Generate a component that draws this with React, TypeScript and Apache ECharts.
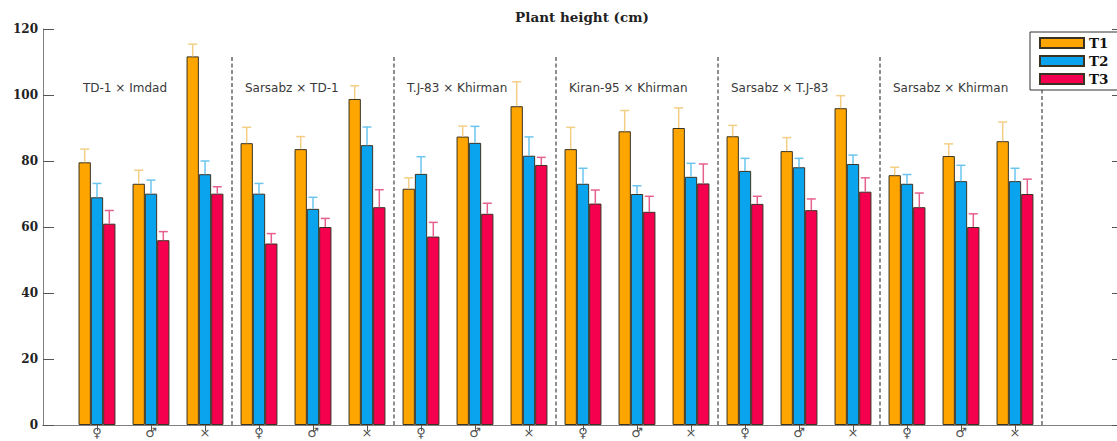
import React, { useEffect, useRef } from 'react';
import * as echarts from 'echarts';

const categories = ['♀', '♂', '×', '♀', '♂', '×', '♀', '♂', '×', '♀', '♂', '×', '♀', '♂', '×', '♀', '♂', '×'];
const groupLabels = ['TD-1 × Imdad', 'Sarsabz × TD-1', 'T.J-83 × Khirman', 'Kiran-95 × Khirman', 'Sarsabz × T.J-83', 'Sarsabz × Khirman'];
const seriesNames = ['T1', 'T2', 'T3'];

const t1 = [79.6, 73.1, 111.7, 85.4, 83.6, 98.8, 71.6, 87.4, 96.6, 83.6, 89.0, 90.0, 87.5, 83.0, 96.0, 75.7, 81.5, 86.0];
const t1Err = [4.0, 4.1, 3.7, 4.8, 3.8, 4.0, 3.3, 3.2, 7.4, 6.6, 6.3, 6.1, 3.3, 4.1, 3.8, 2.4, 3.7, 5.8];
const t2 = [69.0, 70.1, 76.0, 70.1, 65.5, 84.8, 76.1, 85.5, 81.6, 73.1, 70.0, 75.2, 77.0, 78.1, 79.1, 73.1, 73.9, 73.9];
const t2Err = [4.2, 4.1, 4.0, 3.1, 3.5, 5.5, 5.2, 5.0, 5.7, 4.7, 2.5, 4.1, 3.8, 2.7, 2.7, 2.8, 4.8, 3.9];
const t3 = [61.0, 56.0, 70.1, 55.0, 60.0, 66.0, 57.1, 64.0, 78.8, 67.1, 64.6, 73.2, 67.0, 65.1, 70.7, 66.0, 60.0, 70.0];
const t3Err = [4.0, 2.6, 2.1, 3.0, 2.6, 5.3, 4.3, 3.2, 2.3, 4.1, 4.7, 5.9, 2.3, 3.4, 4.2, 4.3, 4.0, 4.5];

const yTicks = [0, 20, 40, 60, 80, 100, 120];

const barColors = ['#FFA500', '#0AA4EE', '#F5004F'];
const errColors = ['#F3CF85', '#6CC5EE', '#E6608E'];
const BAR_W = 12.3;

export default function App() {
  const ref = useRef<HTMLDivElement>(null);
  useEffect(() => {
    const chart = echarts.init(ref.current!, null, { renderer: 'svg' });
    const values = [t1, t2, t3];
    const errs = [t1Err, t2Err, t3Err];
    const xData = ['', ...categories, '', ''];
    const pad = (arr: number[]) => [null, ...arr, null, null];

    const errData: number[][] = [];
    values.forEach((arr, s) => arr.forEach((v, i) => errData.push([i + 1, v, errs[s][i], s])));
    const sepData = groupLabels.map((_, k) => [3 * k + 3.5, 0]);
    const labelData = groupLabels.map((_, k) => [3 * k + 0.74, 102.1, k]);

    const axisColor = '#808080';
    const option: any = {
      animation: false,
      backgroundColor: '#ffffff',
      title: {
        text: 'Plant height (cm)',
        left: 582,
        top: 10,
        textAlign: 'center',
        padding: 0,
        textStyle: { fontFamily: 'DejaVu Serif', fontWeight: 'bold', fontSize: 13.5, color: '#222' },
      },
      legend: {
        data: seriesNames,
        orient: 'vertical',
        left: 1030,
        top: 32,
        padding: [4, 40, 4, 9],
        itemWidth: 44,
        itemHeight: 10,
        itemGap: 4,
        icon: 'rect',
        backgroundColor: '#ffffff',
        borderColor: '#333',
        borderWidth: 1,
        textStyle: { fontFamily: 'DejaVu Serif', fontWeight: 'bold', fontSize: 13.5, color: '#111', lineHeight: 10 },
        z: 20,
      },
      grid: { left: 43, top: 29, right: -6, bottom: 16, containLabel: false, outerBoundsMode: 'none' },
      xAxis: [
        {
          type: 'category',
          data: xData,
          boundaryGap: false,
          position: 'bottom',
          axisLine: { lineStyle: { color: axisColor, width: 1 } },
          axisTick: { show: false },
          axisLabel: {
            interval: 0,
            margin: 1,
            fontFamily: 'DejaVu Sans',
            fontSize: 13,
            lineHeight: 13,
            color: '#555',
          },
          splitLine: { show: false },
        },
        {
          type: 'category',
          data: xData,
          boundaryGap: false,
          position: 'top',
          axisLine: { lineStyle: { color: axisColor, width: 1 } },
          axisTick: {
            show: true,
            inside: true,
            length: 6,
            interval: (idx: number) => idx >= 1 && idx <= 18,
            lineStyle: { color: '#555' },
          },
          axisLabel: { show: false },
          splitLine: { show: false },
        },
        { type: 'value', min: 0, max: 20, show: false, gridIndex: 0 },
      ],
      yAxis: [
        {
          type: 'value',
          min: 0,
          max: 120,
          interval: 20,
          position: 'left',
          axisLine: { show: true, lineStyle: { color: axisColor, width: 1 } },
          axisTick: { show: true, inside: true, length: 11, lineStyle: { color: '#555' } },
          axisLabel: {
            margin: 5,
            fontFamily: 'DejaVu Serif',
            fontWeight: 'bold',
            fontSize: 12,
            color: '#222',
            formatter: (v: number) => (yTicks.includes(v) ? String(v) : ''),
          },
          splitLine: { show: false },
        },
        {
          type: 'value',
          min: 0,
          max: 120,
          interval: 20,
          position: 'right',
          axisLine: { show: true, lineStyle: { color: axisColor, width: 1 } },
          axisTick: { show: true, inside: true, length: 11, lineStyle: { color: '#555' } },
          axisLabel: { show: false },
          splitLine: { show: false },
        },
      ],
      series: [
        ...values.map((arr, s) => ({
          name: seriesNames[s],
          type: 'bar',
          xAxisIndex: 0,
          yAxisIndex: 0,
          data: pad(arr),
          barWidth: BAR_W,
          barGap: '0%',
          itemStyle: { color: barColors[s], borderColor: '#3a3322', borderWidth: 1 },
          z: 2,
        })),
        {
          type: 'custom',
          name: 'err',
          xAxisIndex: 2,
          yAxisIndex: 0,
          data: errData,
          encode: { x: 0, y: 1 },
          z: 3,
          silent: true,
          renderItem: (params: any, api: any) => {
            const x = api.value(0);
            const v = api.value(1);
            const e = api.value(2);
            const s = api.value(3);
            const p0 = api.coord([x, v]);
            const p1 = api.coord([x, v + e]);
            const cx = p0[0] + (s - 1) * BAR_W;
            const st = { stroke: errColors[s], lineWidth: 1.5 };
            return {
              type: 'group',
              children: [
                { type: 'line', shape: { x1: cx, y1: p0[1], x2: cx, y2: p1[1] }, style: st },
                { type: 'line', shape: { x1: cx - 4.5, y1: p1[1], x2: cx + 4.5, y2: p1[1] }, style: st },
              ],
            };
          },
        },
        {
          type: 'custom',
          name: 'sep',
          xAxisIndex: 2,
          yAxisIndex: 0,
          data: sepData,
          encode: { x: 0, y: 1 },
          z: 1,
          silent: true,
          renderItem: (params: any, api: any) => {
            const x = api.value(0);
            const a = api.coord([x, 0]);
            const b = api.coord([x, 111.8]);
            return {
              type: 'line',
              shape: { x1: a[0], y1: a[1], x2: b[0], y2: b[1] },
              style: { stroke: '#444', lineWidth: 1.2, lineDash: [4, 2.5] },
            };
          },
        },
        {
          type: 'custom',
          name: 'labels',
          xAxisIndex: 2,
          yAxisIndex: 0,
          data: labelData,
          encode: { x: 0, y: 1 },
          z: 4,
          silent: true,
          renderItem: (params: any, api: any) => {
            const x = api.value(0);
            const y = api.value(1);
            const k = api.value(2);
            const p = api.coord([x, y]);
            return {
              type: 'text',
              x: p[0],
              y: p[1],
              style: {
                text: groupLabels[k],
                fill: '#3a3a3a',
                fontFamily: 'DejaVu Sans',
                fontSize: 12,
                align: 'left',
                verticalAlign: 'middle',
                textAlign: 'left',
                textVerticalAlign: 'middle',
              },
            };
          },
        },
      ],
    };
    chart.setOption(option);
    return () => chart.dispose();
  }, []);
  return <div ref={ref} style={{ position: 'fixed', left: 0, top: 0, width: 1117, height: 441 }} />;
}
